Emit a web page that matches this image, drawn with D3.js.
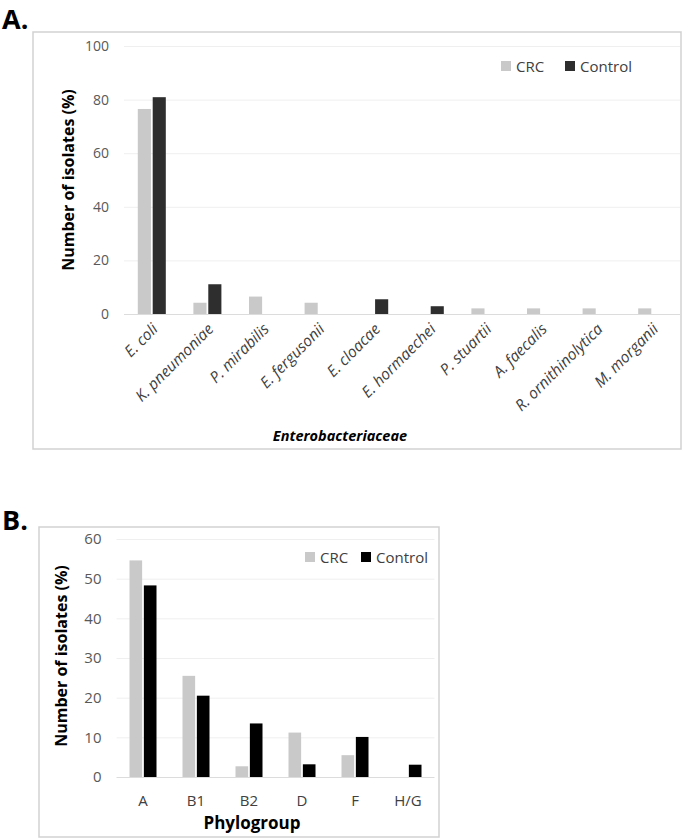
<!DOCTYPE html>
<html>
<head>
<meta charset="utf-8">
<script src="https://cdn.jsdelivr.net/npm/d3@7"></script>
<style>
  body { margin: 0; background: #fff; }
  text { font-family: "Open Sans", sans-serif; }
</style>
</head>
<body>
<svg id="chart" width="685" height="840"></svg>
<script>
// panel A: Enterobacteriaceae
var enteroCategories = ["E. coli", "K. pneumoniae", "P. mirabilis", "E. fergusonii", "E. cloacae",
  "E. hormaechei", "P. stuartii", "A. faecalis", "R. ornithinolytica", "M. morganii"];
var enteroCRC = [76.5, 4.2, 6.5, 4.2, 0, 0, 2.1, 2.1, 2.1, 2.1];
var enteroControl = [80.9, 11.1, 0, 0, 5.5, 2.9, 0, 0, 0, 0];
var enteroTicks = [0, 20, 40, 60, 80, 100];

// panel B: phylogroups
var phyloCategories = ["A", "B1", "B2", "D", "F", "H/G"];
var phyloCRC = [54.6, 25.5, 2.7, 11.2, 5.5, 0];
var phyloControl = [48.3, 20.5, 13.5, 3.2, 10.1, 3.1];
var phyloTicks = [0, 10, 20, 30, 40, 50, 60];

var seriesNames = ["CRC", "Control"];

var svg = d3.select("#chart");

function drawPanel(cfg) {
    var g = svg.append("g");

    // frame
    g.append("rect")
        .attr("x", cfg.frame[0]).attr("y", cfg.frame[1])
        .attr("width", cfg.frame[2] - cfg.frame[0])
        .attr("height", cfg.frame[3] - cfg.frame[1])
        .attr("fill", "none")
        .attr("stroke", "#d2d2d2")
        .attr("stroke-width", 1.5);

    // panel letter
    g.append("text")
        .attr("x", cfg.letterPos[0]).attr("y", cfg.letterPos[1])
        .attr("font-size", 27).attr("font-weight", "bold")
        .attr("fill", "#000")
        .text(cfg.letter);

    var x0 = d3.scaleBand().domain(cfg.categories).range(cfg.xRange).padding(0);
    var x1 = d3.scaleBand().domain(seriesNames).range([0, cfg.pairWidth]).paddingInner(0.12);
    var y = d3.scaleLinear().domain([0, d3.max(cfg.ticks)]).range(cfg.yRange);

    // gridlines + tick labels
    var yAxis = g.append("g")
        .attr("transform", "translate(" + cfg.xRange[0] + ",0)")
        .call(d3.axisLeft(y).tickValues(cfg.ticks)
            .tickSize(-(cfg.xRange[1] - cfg.xRange[0])).tickPadding(15));
    yAxis.select(".domain").remove();
    yAxis.selectAll(".tick line").attr("stroke", function (d) { return d === 0 ? "#dcdcdc" : "#efefef"; });
    yAxis.selectAll(".tick text")
        .attr("font-family", "Open Sans")
        .attr("font-size", cfg.tickSize)
        .attr("fill", "#595959");

    // bars
    var rows = cfg.categories.map(function (c, i) {
        return { cat: c, vals: [cfg.crc[i], cfg.control[i]] };
    });
    var groups = g.selectAll(".grp").data(rows).enter().append("g")
        .attr("transform", function (d) {
            return "translate(" + (x0(d.cat) + x0.bandwidth() / 2 - cfg.pairWidth / 2) + ",0)";
        });
    groups.selectAll("rect")
        .data(function (d) { return d.vals.map(function (v, k) { return { s: seriesNames[k], v: v }; }); })
        .enter().append("rect")
        .attr("x", function (d) { return x1(d.s); })
        .attr("width", x1.bandwidth())
        .attr("y", function (d) { return y(d.v); })
        .attr("height", function (d) { return y(0) - y(d.v); })
        .attr("fill", function (d, k) { return k === 0 ? "#c9c9c9" : cfg.controlColor; });

    // category labels
    var xl = g.selectAll(".xlab").data(cfg.categories).enter().append("text")
        .attr("font-size", cfg.xLabelSize)
        .attr("fill", "#404040");
    if (cfg.rotate) {
        xl.attr("text-anchor", "end")
            .attr("font-style", "italic")
            .attr("transform", function (d) {
                return "translate(" + (x0(d) + x0.bandwidth() / 2 + 7) + "," + (cfg.yRange[0] + 16) + ") rotate(-45)";
            })
            .text(function (d) { return d; });
    } else {
        xl.attr("text-anchor", "middle")
            .attr("x", function (d) { return x0(d) + x0.bandwidth() / 2; })
            .attr("y", cfg.yRange[0] + 29)
            .text(function (d) { return d; });
    }

    // axis titles
    g.append("text")
        .attr("transform", "translate(" + cfg.yTitlePos[0] + "," + cfg.yTitlePos[1] + ") rotate(-90)")
        .attr("text-anchor", "middle")
        .attr("font-size", 16).attr("font-weight", "bold")
        .attr("fill", "#000")
        .text("Number of isolates (%)");
    g.append("text")
        .attr("x", cfg.xTitlePos[0]).attr("y", cfg.xTitlePos[1])
        .attr("text-anchor", "middle")
        .attr("font-size", cfg.xTitleSize).attr("font-weight", "bold")
        .attr("font-style", cfg.xTitleItalic ? "italic" : "normal")
        .attr("fill", "#000")
        .text(cfg.xTitle);

    // legend
    var lg = g.selectAll(".leg").data(seriesNames).enter().append("g")
        .attr("transform", function (d, i) { return "translate(" + cfg.legendX[i] + "," + cfg.legendY + ")"; });
    lg.append("rect")
        .attr("x", 0).attr("y", -5).attr("width", 10).attr("height", 10)
        .attr("fill", function (d, i) { return i === 0 ? "#c9c9c9" : cfg.controlColor; });
    lg.append("text")
        .attr("x", 15).attr("y", 5.5)
        .attr("font-size", 15)
        .attr("fill", "#404040")
        .text(function (d) { return d; });
}

drawPanel({
    letter: "A.", letterPos: [2, 29],
    frame: [33, 32, 681, 449],
    categories: enteroCategories, crc: enteroCRC, control: enteroControl, ticks: enteroTicks,
    xRange: [124, 680], yRange: [314, 46], pairWidth: 28,
    controlColor: "#2e2e2e",
    tickSize: 14, xLabelSize: 15.5, rotate: true,
    yTitlePos: [74, 180],
    xTitle: "Enterobacteriaceae", xTitlePos: [340, 441], xTitleSize: 14.5, xTitleItalic: true,
    legendX: [501, 565], legendY: 66
});

drawPanel({
    letter: "B.", letterPos: [2, 530],
    frame: [39, 527, 439, 837],
    categories: phyloCategories, crc: phyloCRC, control: phyloControl, ticks: phyloTicks,
    xRange: [116.5, 434.5], yRange: [777, 539], pairWidth: 27,
    controlColor: "#000",
    tickSize: 15, xLabelSize: 15, rotate: false,
    yTitlePos: [67, 656],
    xTitle: "Phylogroup", xTitlePos: [252, 829], xTitleSize: 17, xTitleItalic: false,
    legendX: [305, 361], legendY: 557
});
</script>
</body>
</html>
